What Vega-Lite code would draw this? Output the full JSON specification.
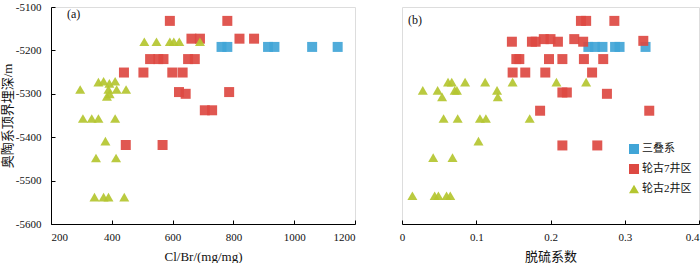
{
  "$schema": "https://vega.github.io/schema/vega-lite/v6.json",
  "padding": {"left": 0, "top": 0, "right": 0, "bottom": 0},
  "config": {
    "axis": {
      "grid": true,
      "gridOpacity": 0,
      "labelFont": "Liberation Serif",
      "titleFont": "Liberation Serif, Noto Sans CJK SC",
      "labelFontSize": 11,
      "titleFontSize": 13,
      "titleFontWeight": "normal",
      "labelColor": "#111",
      "titleColor": "#111"
    },
    "title": {"font": "Liberation Serif", "fontSize": 12, "fontWeight": "normal", "color": "#111", "anchor": "start", "frame": "group", "offset": -20},
    "legend": {
      "labelFont": "Liberation Serif, Noto Sans CJK SC",
      "labelFontSize": 11,
      "labelColor": "#111"
    },
    "concat": {"spacing": 42}
  },
  "datasets": {
    "a": [
      {"clbr": 761, "depth": -5192, "g": "三叠系"},
      {"clbr": 780, "depth": -5192, "g": "三叠系"},
      {"clbr": 914, "depth": -5192, "g": "三叠系"},
      {"clbr": 935, "depth": -5192, "g": "三叠系"},
      {"clbr": 1059, "depth": -5192, "g": "三叠系"},
      {"clbr": 1143, "depth": -5192, "g": "三叠系"},
      {"clbr": 591, "depth": -5132, "g": "轮古7井区"},
      {"clbr": 780, "depth": -5132, "g": "轮古7井区"},
      {"clbr": 662, "depth": -5173, "g": "轮古7井区"},
      {"clbr": 690, "depth": -5173, "g": "轮古7井区"},
      {"clbr": 820, "depth": -5173, "g": "轮古7井区"},
      {"clbr": 868, "depth": -5173, "g": "轮古7井区"},
      {"clbr": 526, "depth": -5220, "g": "轮古7井区"},
      {"clbr": 553, "depth": -5220, "g": "轮古7井区"},
      {"clbr": 570, "depth": -5220, "g": "轮古7井区"},
      {"clbr": 651, "depth": -5220, "g": "轮古7井区"},
      {"clbr": 673, "depth": -5220, "g": "轮古7井区"},
      {"clbr": 440, "depth": -5251, "g": "轮古7井区"},
      {"clbr": 504, "depth": -5251, "g": "轮古7井区"},
      {"clbr": 599, "depth": -5251, "g": "轮古7井区"},
      {"clbr": 633, "depth": -5251, "g": "轮古7井区"},
      {"clbr": 621, "depth": -5296, "g": "轮古7井区"},
      {"clbr": 643, "depth": -5300, "g": "轮古7井区"},
      {"clbr": 786, "depth": -5296, "g": "轮古7井区"},
      {"clbr": 706, "depth": -5338, "g": "轮古7井区"},
      {"clbr": 730, "depth": -5338, "g": "轮古7井区"},
      {"clbr": 446, "depth": -5418, "g": "轮古7井区"},
      {"clbr": 567, "depth": -5418, "g": "轮古7井区"},
      {"clbr": 507, "depth": -5180, "g": "轮古2井区"},
      {"clbr": 547, "depth": -5180, "g": "轮古2井区"},
      {"clbr": 591, "depth": -5180, "g": "轮古2井区"},
      {"clbr": 604, "depth": -5180, "g": "轮古2井区"},
      {"clbr": 622, "depth": -5180, "g": "轮古2井区"},
      {"clbr": 690, "depth": -5180, "g": "轮古2井区"},
      {"clbr": 356, "depth": -5273, "g": "轮古2井区"},
      {"clbr": 373, "depth": -5271, "g": "轮古2井区"},
      {"clbr": 392, "depth": -5276, "g": "轮古2井区"},
      {"clbr": 411, "depth": -5271, "g": "轮古2井区"},
      {"clbr": 296, "depth": -5290, "g": "轮古2井区"},
      {"clbr": 389, "depth": -5290, "g": "轮古2井区"},
      {"clbr": 416, "depth": -5290, "g": "轮古2井区"},
      {"clbr": 447, "depth": -5290, "g": "轮古2井区"},
      {"clbr": 384, "depth": -5306, "g": "轮古2井区"},
      {"clbr": 393, "depth": -5300, "g": "轮古2井区"},
      {"clbr": 305, "depth": -5357, "g": "轮古2井区"},
      {"clbr": 334, "depth": -5357, "g": "轮古2井区"},
      {"clbr": 356, "depth": -5357, "g": "轮古2井区"},
      {"clbr": 411, "depth": -5357, "g": "轮古2井区"},
      {"clbr": 379, "depth": -5409, "g": "轮古2井区"},
      {"clbr": 348, "depth": -5448, "g": "轮古2井区"},
      {"clbr": 414, "depth": -5448, "g": "轮古2井区"},
      {"clbr": 343, "depth": -5538, "g": "轮古2井区"},
      {"clbr": 373, "depth": -5538, "g": "轮古2井区"},
      {"clbr": 389, "depth": -5538, "g": "轮古2井区"},
      {"clbr": 441, "depth": -5538, "g": "轮古2井区"}
    ],
    "b": [
      {"ds": 0.251, "depth": -5192, "g": "三叠系"},
      {"ds": 0.260, "depth": -5192, "g": "三叠系"},
      {"ds": 0.270, "depth": -5192, "g": "三叠系"},
      {"ds": 0.287, "depth": -5192, "g": "三叠系"},
      {"ds": 0.293, "depth": -5192, "g": "三叠系"},
      {"ds": 0.328, "depth": -5192, "g": "三叠系"},
      {"ds": 0.241, "depth": -5132, "g": "轮古7井区"},
      {"ds": 0.248, "depth": -5132, "g": "轮古7井区"},
      {"ds": 0.286, "depth": -5132, "g": "轮古7井区"},
      {"ds": 0.148, "depth": -5180, "g": "轮古7井区"},
      {"ds": 0.175, "depth": -5180, "g": "轮古7井区"},
      {"ds": 0.180, "depth": -5180, "g": "轮古7井区"},
      {"ds": 0.191, "depth": -5174, "g": "轮古7井区"},
      {"ds": 0.200, "depth": -5174, "g": "轮古7井区"},
      {"ds": 0.210, "depth": -5180, "g": "轮古7井区"},
      {"ds": 0.232, "depth": -5174, "g": "轮古7井区"},
      {"ds": 0.244, "depth": -5180, "g": "轮古7井区"},
      {"ds": 0.325, "depth": -5178, "g": "轮古7井区"},
      {"ds": 0.154, "depth": -5220, "g": "轮古7井区"},
      {"ds": 0.158, "depth": -5220, "g": "轮古7井区"},
      {"ds": 0.198, "depth": -5220, "g": "轮古7井区"},
      {"ds": 0.216, "depth": -5220, "g": "轮古7井区"},
      {"ds": 0.245, "depth": -5220, "g": "轮古7井区"},
      {"ds": 0.271, "depth": -5220, "g": "轮古7井区"},
      {"ds": 0.149, "depth": -5251, "g": "轮古7井区"},
      {"ds": 0.166, "depth": -5251, "g": "轮古7井区"},
      {"ds": 0.193, "depth": -5251, "g": "轮古7井区"},
      {"ds": 0.256, "depth": -5251, "g": "轮古7井区"},
      {"ds": 0.216, "depth": -5297, "g": "轮古7井区"},
      {"ds": 0.222, "depth": -5297, "g": "轮古7井区"},
      {"ds": 0.276, "depth": -5300, "g": "轮古7井区"},
      {"ds": 0.186, "depth": -5339, "g": "轮古7井区"},
      {"ds": 0.333, "depth": -5339, "g": "轮古7井区"},
      {"ds": 0.216, "depth": -5419, "g": "轮古7井区"},
      {"ds": 0.263, "depth": -5419, "g": "轮古7井区"},
      {"ds": 0.062, "depth": -5273, "g": "轮古2井区"},
      {"ds": 0.067, "depth": -5273, "g": "轮古2井区"},
      {"ds": 0.085, "depth": -5273, "g": "轮古2井区"},
      {"ds": 0.112, "depth": -5273, "g": "轮古2井区"},
      {"ds": 0.149, "depth": -5273, "g": "轮古2井区"},
      {"ds": 0.208, "depth": -5273, "g": "轮古2井区"},
      {"ds": 0.248, "depth": -5273, "g": "轮古2井区"},
      {"ds": 0.028, "depth": -5292, "g": "轮古2井区"},
      {"ds": 0.048, "depth": -5292, "g": "轮古2井区"},
      {"ds": 0.071, "depth": -5292, "g": "轮古2井区"},
      {"ds": 0.074, "depth": -5292, "g": "轮古2井区"},
      {"ds": 0.128, "depth": -5292, "g": "轮古2井区"},
      {"ds": 0.054, "depth": -5307, "g": "轮古2井区"},
      {"ds": 0.129, "depth": -5307, "g": "轮古2井区"},
      {"ds": 0.056, "depth": -5357, "g": "轮古2井区"},
      {"ds": 0.075, "depth": -5357, "g": "轮古2井区"},
      {"ds": 0.105, "depth": -5357, "g": "轮古2井区"},
      {"ds": 0.113, "depth": -5357, "g": "轮古2井区"},
      {"ds": 0.172, "depth": -5357, "g": "轮古2井区"},
      {"ds": 0.103, "depth": -5409, "g": "轮古2井区"},
      {"ds": 0.042, "depth": -5447, "g": "轮古2井区"},
      {"ds": 0.068, "depth": -5447, "g": "轮古2井区"},
      {"ds": 0.014, "depth": -5535, "g": "轮古2井区"},
      {"ds": 0.044, "depth": -5535, "g": "轮古2井区"},
      {"ds": 0.049, "depth": -5535, "g": "轮古2井区"},
      {"ds": 0.060, "depth": -5535, "g": "轮古2井区"},
      {"ds": 0.065, "depth": -5535, "g": "轮古2井区"}
    ]
  },
  "resolve": {"legend": {"color": "independent", "shape": "independent", "size": "independent"}},
  "hconcat": [
    {
      "width": 304,
      "height": 217,
      "title": {"text": "(a)", "dx": 16},
      "layer": [
        {
          "data": {"name": "a"},
          "mark": {"type": "point", "filled": true, "fillOpacity": 0.92, "strokeWidth": 0},
          "encoding": {
            "x": {"field": "clbr", "type": "quantitative",
                  "scale": {"domain": [200, 1200], "nice": false, "zero": false},
                  "axis": {"title": "Cl/Br/(mg/mg)", "values": [200, 400, 600, 800, 1000, 1200], "format": "d",
                           "domain": true, "domainColor": "black", "domainWidth": 1, "ticks": true, "tickColor": "black", "tickWidth": 1, "tickSize": -4,
                           "titlePadding": 8, "labelPadding": 11}},
            "y": {"field": "depth", "type": "quantitative",
                  "scale": {"domain": [-5600, -5100], "nice": false, "zero": false},
                  "axis": {"title": "奥陶系顶界埋深/m", "values": [-5600, -5500, -5400, -5300, -5200, -5100],
                           "labelExpr": "'-' + format(-datum.value, 'd')",
                           "domain": true, "domainColor": "black", "domainWidth": 1, "ticks": true, "tickColor": "black", "tickWidth": 1, "tickSize": -4,
                           "titlePadding": 1, "labelPadding": 14}},
            "color": {"field": "g", "type": "nominal", "legend": null,
                      "scale": {"domain": ["三叠系", "轮古7井区", "轮古2井区"], "range": ["#41a5d7", "#dd4942", "#b4c630"]}},
            "shape": {"field": "g", "type": "nominal", "legend": null,
                      "scale": {"domain": ["三叠系", "轮古7井区", "轮古2井区"], "range": ["square", "square", "triangle-up"]}},
            "size": {"field": "g", "type": "nominal", "legend": null,
                     "scale": {"domain": ["三叠系", "轮古7井区", "轮古2井区"], "range": [100, 100, 150]}}
          }
        },
        {
          "mark": {"type": "rule", "color": "black", "strokeWidth": 1},
          "encoding": {"y": {"datum": -5600}}
        },
        {
          "mark": {"type": "rule", "color": "black", "strokeWidth": 1},
          "encoding": {"x": {"datum": 200}}
        }
      ]
    },
    {
      "width": 297,
      "height": 217,
      "title": {"text": "(b)", "dx": 6},
      "layer": [
        {
          "data": {"name": "b"},
          "mark": {"type": "point", "filled": true, "fillOpacity": 0.92, "strokeWidth": 0},
          "encoding": {
            "x": {"field": "ds", "type": "quantitative",
                  "scale": {"domain": [0, 0.4], "nice": false},
                  "axis": {"title": "脱硫系数", "values": [0, 0.1, 0.2, 0.3, 0.4], "format": "~g",
                           "domain": true, "domainColor": "black", "domainWidth": 1, "ticks": true, "tickColor": "black", "tickWidth": 1, "tickSize": -4,
                           "titlePadding": 8, "labelPadding": 11,
                           "labelAlign": {"condition": {"test": "datum.value >= 0.4", "value": "right"}, "value": "center"}}},
            "y": {"field": "depth", "type": "quantitative",
                  "scale": {"domain": [-5600, -5100], "nice": false, "zero": false},
                  "axis": null},
            "color": {"field": "g", "type": "nominal",
                      "scale": {"domain": ["三叠系", "轮古7井区", "轮古2井区"], "range": ["#41a5d7", "#dd4942", "#b4c630"]},
                      "legend": {"title": null, "orient": "none", "legendX": 226, "legendY": 136, "symbolSize": 100, "rowPadding": 4, "labelOffset": 2}},
            "shape": {"field": "g", "type": "nominal",
                      "scale": {"domain": ["三叠系", "轮古7井区", "轮古2井区"], "range": ["square", "square", "triangle-up"]},
                      "legend": {"title": null, "orient": "none", "legendX": 226, "legendY": 136, "symbolSize": 100, "rowPadding": 4, "labelOffset": 2}},
            "size": {"field": "g", "type": "nominal", "legend": null,
                     "scale": {"domain": ["三叠系", "轮古7井区", "轮古2井区"], "range": [100, 100, 150]}}
          }
        },
        {
          "mark": {"type": "rule", "color": "black", "strokeWidth": 1},
          "encoding": {"y": {"datum": -5600}}
        }
      ]
    }
  ]
}
